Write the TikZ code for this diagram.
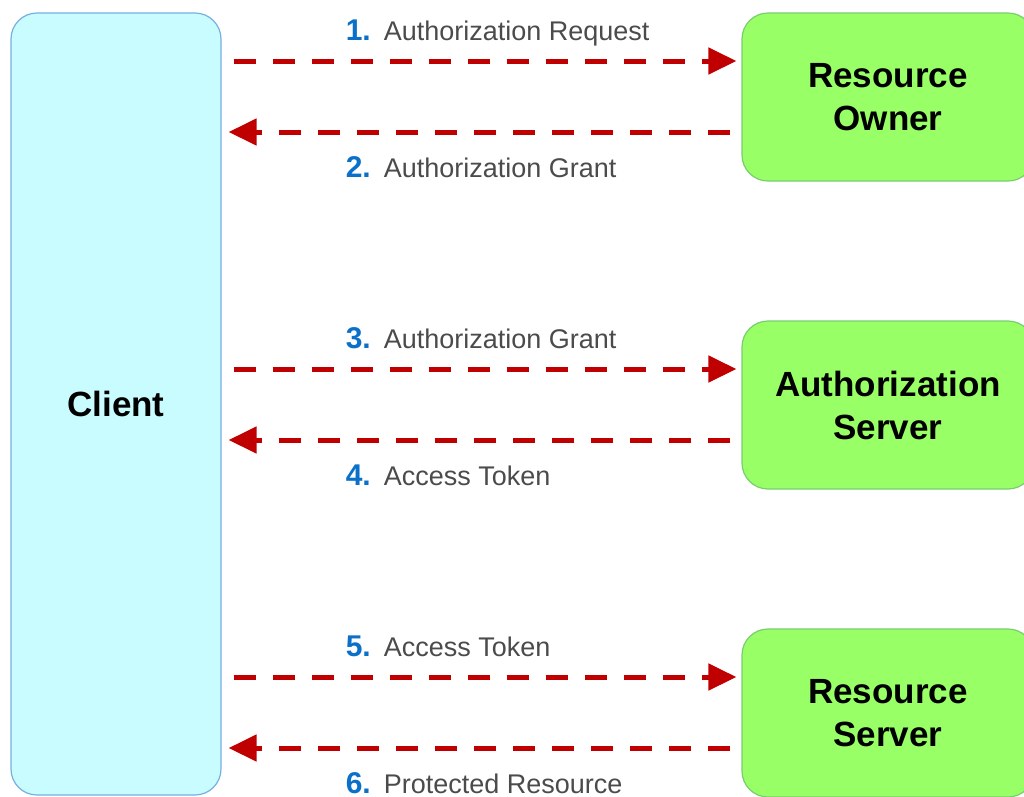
\documentclass[tikz,border=0pt]{standalone}
\usepackage{fontspec}
\setmainfont{Liberation Sans}
\usetikzlibrary{calc, arrows.meta}
\definecolor{clientfill}{RGB}{200,252,255}
\definecolor{clientline}{RGB}{120,175,225}
\definecolor{partyfill}{RGB}{153,255,102}
\definecolor{partyline}{RGB}{120,205,110}
\definecolor{msgred}{RGB}{192,0,0}
\definecolor{numblue}{RGB}{10,112,200}
\definecolor{lblgray}{RGB}{75,75,75}
\tikzstyle{box} = [line width=1.2pt, rounded corners=26pt, align=center, font=\fontsize{35}{43}\selectfont\bfseries]
\tikzstyle{client} = [box, draw=clientline, fill=clientfill, minimum width=210pt, minimum height=782pt]
\tikzstyle{party} = [box, draw=partyline, fill=partyfill, minimum width=292pt, minimum height=168pt]
\tikzstyle{line} = [draw, line width=5pt, color=msgred, dash pattern=on 22pt off 17pt, -{Triangle[length=28pt, width=26pt]}]
\tikzstyle{lbl} = [anchor=base west, inner sep=0pt, text=lblgray, font=\fontsize{27}{32}\selectfont]
\newcommand{\stepnum}[1]{{\fontsize{30}{36}\selectfont\bfseries\color{numblue}#1.}\hspace{13pt}}
\newcommand{\msgto}[3]{
  \path [line] ($(client.east |- #1.west)+(12,-36)$) -- ($(#1.west)+(-5,-36)$);
  \node (m#2) [lbl] at ($(client.east |- #1.west)+(124,-57)$) {\stepnum{#2}#3};}
\newcommand{\msgback}[3]{
  \path [line] ($(#1.west)+(-11,35)$) -- ($(client.east |- #1.west)+(7,35)$);
  \node (m#2) [lbl] at ($(client.east |- #1.west)+(124,80)$) {\stepnum{#2}#3};}

\begin{document}
\begin{tikzpicture}[x=1pt, y=-1pt]
	\useasboundingbox (0,0) rectangle (1024,796);
	
	% Draw parties
	\node (client) [client] at (116,404) {Client};
	\node (owner) [party] at (888,97) {Resource\\Owner};
	\path (owner)+(0,308) node (authsrv) [party] {Authorization\\Server};
	\path (authsrv)+(0,308) node (ressrv) [party] {Resource\\Server};
	
	% Draw messages
	\msgto{owner}{1}{Authorization Request}
	\msgback{owner}{2}{Authorization Grant}
	\msgto{authsrv}{3}{Authorization Grant}
	\msgback{authsrv}{4}{Access Token}
	\msgto{ressrv}{5}{Access Token}
	\msgback{ressrv}{6}{Protected Resource}
	
\end{tikzpicture}
\end{document}
